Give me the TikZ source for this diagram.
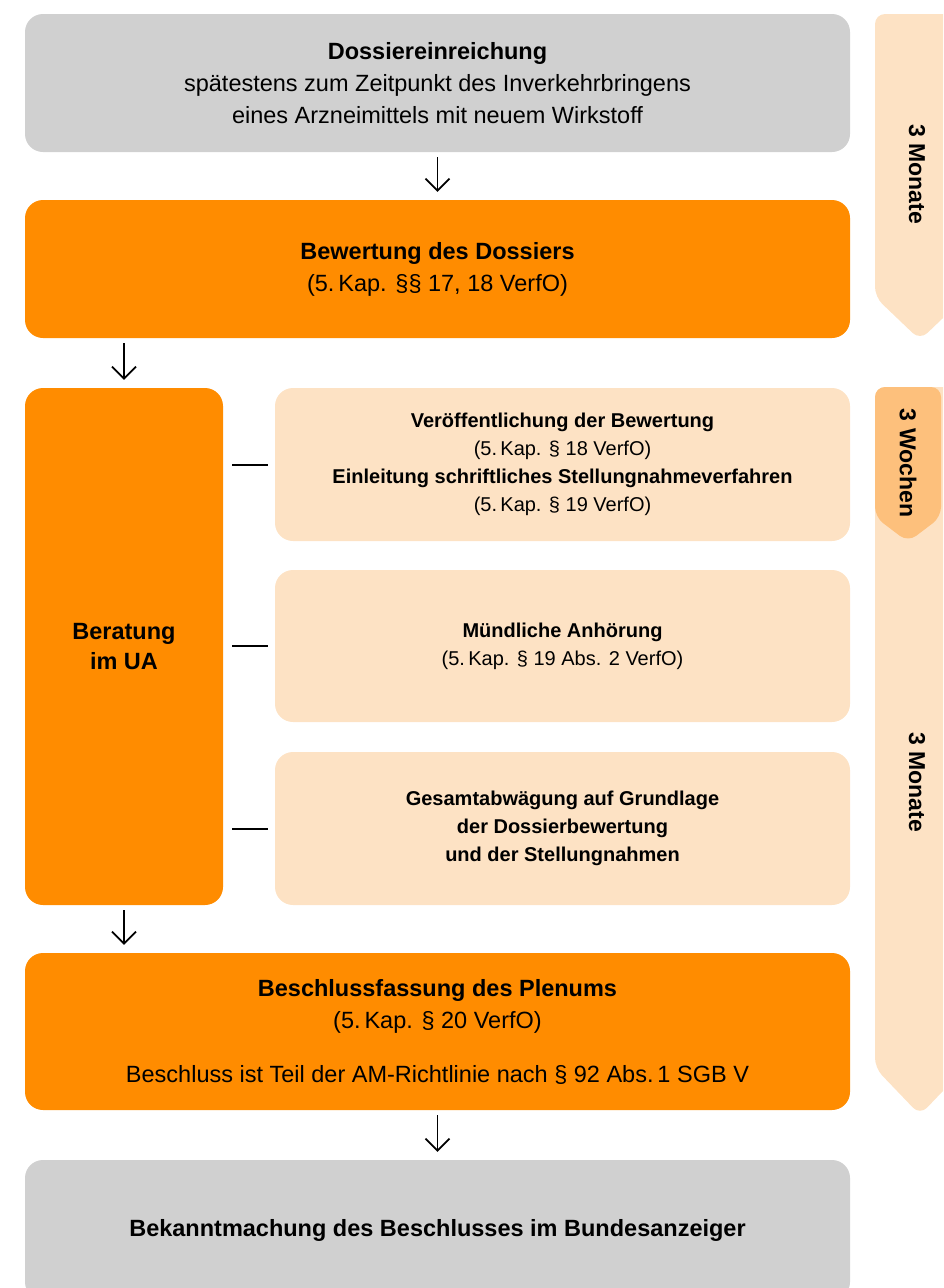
\documentclass[tikz,border=0pt]{standalone}
\usepackage{fontspec}
\setmainfont{Liberation Sans}
\usetikzlibrary{arrows.meta,calc}
\definecolor{gbgray}{HTML}{D0D0D0}
\definecolor{gborange}{HTML}{FF8C00}
\definecolor{gbpeach}{HTML}{FDE2C4}
\definecolor{gbwochen}{HTML}{FDC07C}
\begin{document}
\begin{tikzpicture}[x=1pt,y=-1pt,
  box/.style={rectangle, rounded corners=18pt, inner sep=0pt, align=center, text=black},
  mainfont/.style={font=\fontsize{23.5}{32}\selectfont},
  subfont/.style={font=\fontsize{20}{28}\selectfont},
  sidefont/.style={font=\fontsize{23}{28}\selectfont\bfseries},
  flow/.style={-{Straight Barb[length=12pt,width=24pt,line width=1.8pt]}, line width=1.8pt, shorten <=5pt, shorten >=8pt},
  tick/.style={line width=2pt},
  sidebar/.style={rounded corners=10pt},
]
\useasboundingbox (0,0) rectangle (943,1288);
\clip (0,0) rectangle (943,1288);

% side bars
\fill[gbpeach, sidebar] (875,14) -- (965,14) -- (965,297) -- (920,340) -- (875,297) -- cycle;
\fill[gbpeach, sidebar] (875,387) -- (965,387) -- (965,1068) -- (920,1115) -- (875,1068) -- cycle;
\fill[gbwochen, sidebar] (875,387) -- (941,387) -- (941,517) -- (908,542) -- (875,517) -- cycle;
\node[sidefont, rotate=-90] (m1) at (917,174) {3 Monate};
\node[sidefont, rotate=-90] (w1) at (908,463) {3 Wochen};
\node[sidefont, rotate=-90] (m2) at (917,782) {3 Monate};

% main boxes
\node[box, mainfont, fill=gbgray, minimum width=825pt, minimum height=138pt] (n1) at (437.5,83)
  {\textbf{Dossiereinreichung}\\ spätestens zum Zeitpunkt des Inverkehrbringens\\ eines Arzneimittels mit neuem Wirkstoff};
\node[box, mainfont, fill=gborange, minimum width=825pt, minimum height=138pt] (n2) at (437.5,269)
  {\textbf{Bewertung des Dossiers}\\ (5.\,Kap. §§ 17, 18 VerfO)};
\node[box, mainfont, fill=gborange, minimum width=198pt, minimum height=517pt, font=\fontsize{23.5}{30}\selectfont\bfseries] (ber) at (124,646.5)
  {Beratung\\ im UA};
\node[box, subfont, fill=gbpeach, minimum width=575pt, minimum height=153pt] (s1) at (562.5,464.5)
  {\textbf{Veröffentlichung der Bewertung}\\ (5.\,Kap. § 18 VerfO)\\ \textbf{Einleitung schriftliches Stellungnahmeverfahren}\\ (5.\,Kap. § 19 VerfO)};
\node[box, subfont, fill=gbpeach, minimum width=575pt, minimum height=152pt] (s2) at (562.5,646)
  {\textbf{Mündliche Anhörung}\\ (5.\,Kap. § 19 Abs. 2 VerfO)};
\node[box, subfont, fill=gbpeach, minimum width=575pt, minimum height=153pt] (s3) at (562.5,828.5)
  {\textbf{Gesamtabwägung auf Grundlage}\\ \textbf{der Dossierbewertung}\\ \textbf{und der Stellungnahmen}};
\node[box, mainfont, fill=gborange, minimum width=825pt, minimum height=157pt] (n5) at (437.5,1031.5)
  {\textbf{Beschlussfassung des Plenums}\\ (5.\,Kap. § 20 VerfO)\\[22pt] Beschluss ist Teil der AM-Richtlinie nach § 92 Abs.\,1 SGB V};
\node[box, mainfont, fill=gbgray, minimum width=825pt, minimum height=140pt] (n6) at (437.5,1230)
  {\textbf{Bekanntmachung des Beschlusses im Bundesanzeiger}};

% connectors
\draw[flow] (n1.south) -- (n2.north);
\draw[flow] (n2.south -| ber.north) -- (ber.north);
\draw[flow] (ber.south) -- (ber.south |- n5.north);
\draw[flow] (n5.south) -- (n6.north);
\draw[tick] ([xshift=9pt]ber.east |- s1.west) -- ([xshift=-7pt]s1.west);
\draw[tick] ([xshift=9pt]ber.east |- s2.west) -- ([xshift=-7pt]s2.west);
\draw[tick] ([xshift=9pt]ber.east |- s3.west) -- ([xshift=-7pt]s3.west);
\end{tikzpicture}
\end{document}
